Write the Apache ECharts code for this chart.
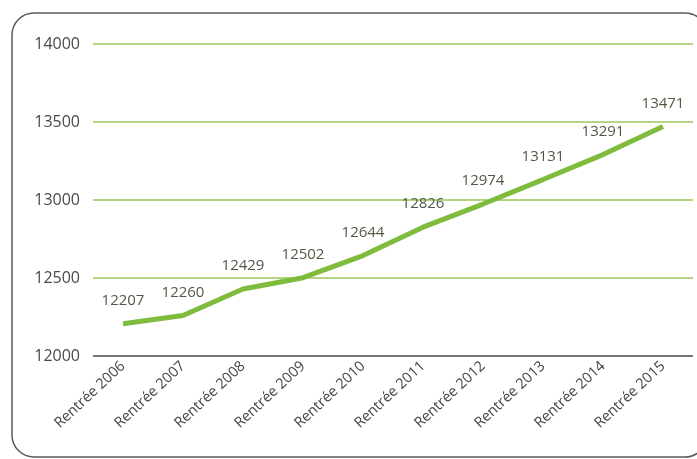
<!DOCTYPE html>
<html><head><meta charset="utf-8">
<script src="https://cdn.jsdelivr.net/npm/echarts@6/dist/echarts.min.js"></script>
<style>html,body{margin:0;padding:0;background:#fff}#c{width:697px;height:459px}</style>
</head><body><div id="c"></div>
<script>
const categories = ["Rentrée 2006","Rentrée 2007","Rentrée 2008","Rentrée 2009","Rentrée 2010","Rentrée 2011","Rentrée 2012","Rentrée 2013","Rentrée 2014","Rentrée 2015"];
const values = [12207,12260,12429,12502,12644,12826,12974,13131,13291,13471];
const yMin = 12000, yMax = 14000, yStep = 500;

const chart = echarts.init(document.getElementById('c'));
chart.setOption({
  animation:false,
  textStyle:{fontFamily:'Open Sans'},
  graphic:[{type:'rect',shape:{x:12,y:13,width:695,height:444,r:22},style:{fill:'none',stroke:'#5a5a5a',lineWidth:1.5},z:-1}],
  grid:{left:93,right:4,top:44,bottom:103},
  xAxis:{type:'category',data:categories,boundaryGap:true,
    axisLine:{show:false},axisTick:{show:false},
    axisLabel:{rotate:43,fontSize:14.5,color:'#444',margin:8,fontFamily:'Open Sans'}},
  yAxis:{type:'value',min:yMin,max:yMax,interval:yStep,
    axisLine:{show:false},axisTick:{show:false},
    axisLabel:{fontSize:16,color:'#4a4a4a',margin:13,fontFamily:'Open Sans',formatter:v=>String(v)},
    splitLine:{lineStyle:{color:'#98c65a',width:1.5}}},
  series:[{type:'line',data:values,symbol:'circle',symbolSize:1,showSymbol:true,
    itemStyle:{color:'#7ab83a',opacity:0},
    lineStyle:{color:'#7fbb3c',width:5},
    label:{show:true,position:'top',distance:15,fontSize:15,color:'#4f5a46',fontFamily:'Open Sans',opacity:1},
    labelLayout:{hideOverlap:false},
    markLine:{silent:true,symbol:'none',label:{show:false},lineStyle:{color:'#777',width:2,type:'solid'},data:[{yAxis:yMin}]}
  }]
});
</script></body></html>
